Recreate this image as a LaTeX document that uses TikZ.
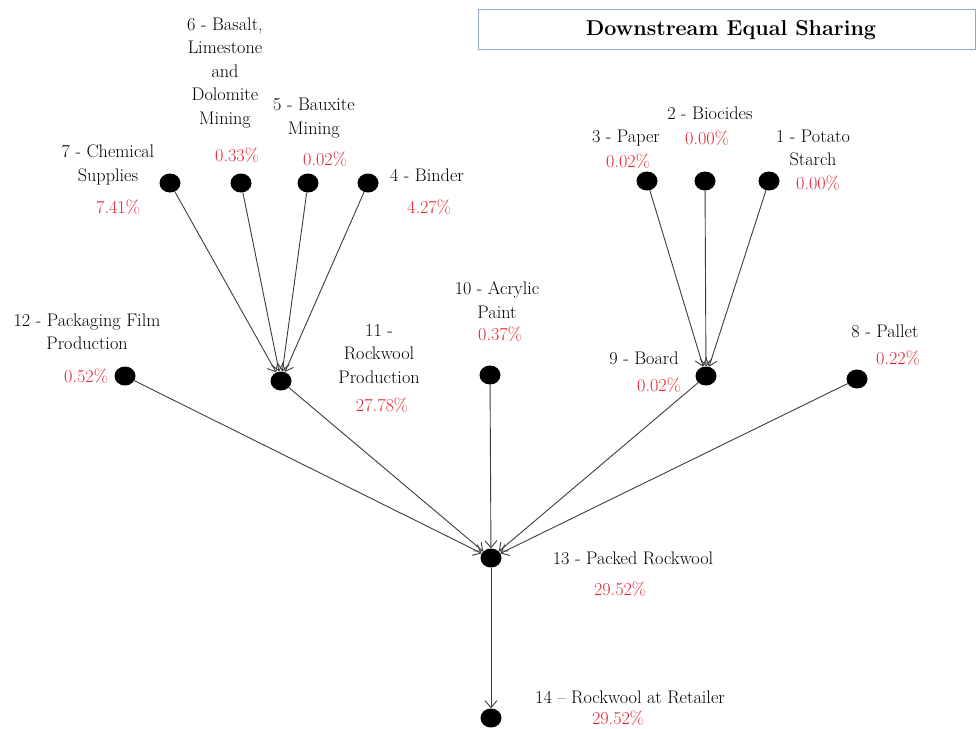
\documentclass[tikz,border=0pt]{standalone}
\usetikzlibrary{shapes.geometric,arrows.meta}

\definecolor{pctred}{RGB}{224,36,52}
\definecolor{linkgray}{RGB}{60,60,60}
\definecolor{boxedge}{RGB}{150,168,196}

\tikzset{
  dot/.style={ellipse, fill=black, draw=none, minimum width=21pt, minimum height=19pt, inner sep=0pt},
  lbl/.style={align=center, inner sep=0pt, text=black, font=\fontsize{18.2}{23.5}\selectfont},
  pct/.style={inner sep=0pt, text=pctred, font=\fontsize{18.2}{23.5}\selectfont},
  flow/.style={draw=linkgray, line width=0.9pt, -{Straight Barb[length=7pt,width=12pt,line width=0.9pt]}},
  titlebox/.style={draw=boxedge, line width=0.8pt, fill=white}
}

\begin{document}
\begin{tikzpicture}[x=1pt,y=-1pt]
\useasboundingbox (0,0) rectangle (976,728);

% title box
\draw[titlebox] (478,9) rectangle (975,49);
\node[inner sep=0pt, font=\fontsize{21.5}{26}\selectfont\bfseries, text=black] (title) at (731,30) {Downstream Equal Sharing};

% process dots
\node[dot] (n7)  at (170,183) {};
\node[dot] (n6)  at (241,183) {};
\node[dot] (n5)  at (308,183) {};
\node[dot] (n4)  at (368,183) {};
\node[dot] (n3)  at (647,181) {};
\node[dot] (n2)  at (705,181) {};
\node[dot] (n1)  at (769,181) {};
\node[dot] (n12) at (125,376) {};
\node[dot] (n11) at (281,381) {};
\node[dot] (n10) at (490,375) {};
\node[dot] (n9)  at (706,376) {};
\node[dot] (n8)  at (857,379) {};
\node[dot] (n13) at (491,558) {};
\node[dot] (n14) at (491,718) {};

% names
\node[lbl] (l7)  at (108,165) {7 - Chemical\\Supplies};
\node[lbl] (l6)  at (225,73)  {6 - Basalt,\\Limestone\\and\\Dolomite\\Mining};
\node[lbl] (l5)  at (314,118) {5 - Bauxite\\Mining};
\node[lbl] (l4)  at (427,175) {4 - Binder};
\node[lbl] (l3)  at (626,138) {3 - Paper};
\node[lbl] (l2)  at (710,113) {2 - Biocides};
\node[lbl] (l1)  at (813,148) {1 - Potato\\Starch};
\node[lbl] (l12) at (87,332)  {12 - Packaging Film\\Production};
\node[lbl] (l11) at (379,354) {11 -\\Rockwool\\Production};
\node[lbl] (l10) at (497,300) {10 - Acrylic\\Paint};
\node[lbl] (l9)  at (644,358) {9 - Board};
\node[lbl] (l8)  at (885,331) {8 - Pallet};
\node[lbl] (l13) at (633,558) {13 - Packed Rockwool};
\node[lbl] (l14) at (630,697) {14 -- Rockwool at Retailer};

% shares
\node[pct] (p7)  at (118,207) {7.41\%};
\node[pct] (p6)  at (237,155) {0.33\%};
\node[pct] (p5)  at (325,159) {0.02\%};
\node[pct] (p4)  at (429,207) {4.27\%};
\node[pct] (p3)  at (628,161) {0.02\%};
\node[pct] (p2)  at (707,138) {0.00\%};
\node[pct] (p1)  at (818,183) {0.00\%};
\node[pct] (p12) at (86,376)  {0.52\%};
\node[pct] (p11) at (382,405) {27.78\%};
\node[pct] (p10) at (500,334) {0.37\%};
\node[pct] (p9)  at (659,385) {0.02\%};
\node[pct] (p8)  at (898,358) {0.22\%};
\node[pct] (p13) at (620,589) {29.52\%};
\node[pct] (p14) at (618,718) {29.52\%};

% flows
\foreach \s in {n7,n6,n5,n4} \draw[flow] (\s) -- (n11);
\foreach \s in {n3,n2,n1} \draw[flow] (\s) -- (n9);
\foreach \s in {n12,n11,n10,n9,n8} \draw[flow] (\s) -- (n13);
\draw[flow] (n13) -- (n14);
\end{tikzpicture}
\end{document}
